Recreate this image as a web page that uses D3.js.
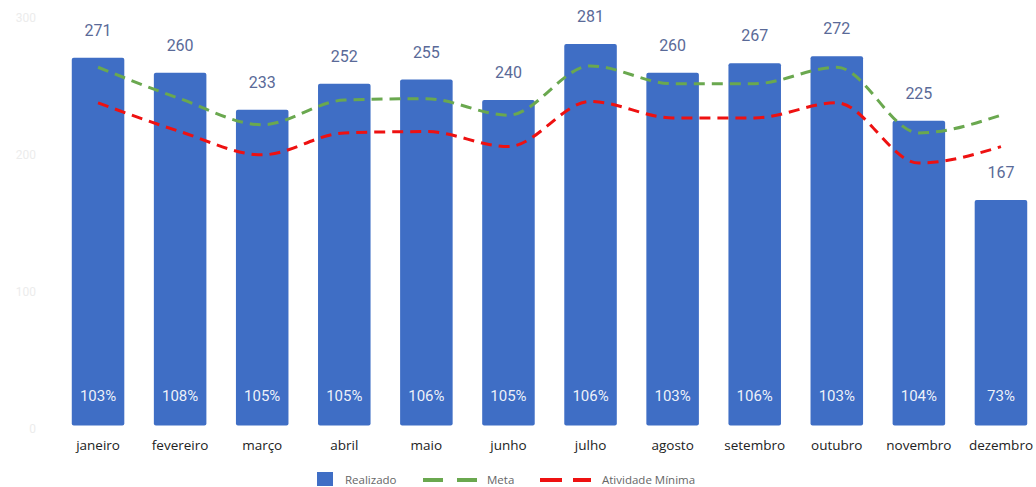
<!DOCTYPE html>
<html><head><meta charset="utf-8">
<script src="https://cdn.jsdelivr.net/npm/d3@7"></script>
<style>body{margin:0;background:#fff}svg{display:block}</style>
</head><body>
<svg id="c" width="1036" height="487"></svg>
<script>
const months = ["janeiro","fevereiro","março","abril","maio","junho","julho","agosto","setembro","outubro","novembro","dezembro"];
const realizado = [271,260,233,252,255,240,281,260,267,272,225,167];
const meta = [264,241,222,240,241,229,265,252,252,264,216,229];
const atividadeMinima = [238,217,200,216,217,206,239,227,227,238,194,206];
const percentLabels = ["103%","108%","105%","105%","106%","105%","106%","103%","106%","103%","104%","73%"];
const yTicks = [0,100,200,300];

const svg = d3.select("#c");
const x = d3.scaleBand().domain(months).range([57,1042]).paddingInner(0.36).paddingOuter(0.18);
const y = d3.scaleLinear().domain([0,300]).range([428.5,18]);

// faint y axis labels
svg.append("g").selectAll("text").data(yTicks).join("text")
  .attr("x",36).attr("y",d=>y(d)).attr("dy","0.35em").attr("text-anchor","end")
  .attr("font-family","Roboto, sans-serif").attr("font-size",12).attr("fill","#ececec")
  .text(d=>d);

// bars
svg.append("g").selectAll("rect").data(realizado).join("rect")
  .attr("x",(d,i)=>x(months[i])).attr("width",x.bandwidth())
  .attr("y",d=>y(d)).attr("height",d=>y(0)-y(d)-3)
  .attr("rx",2).attr("fill","#3f6ec5");

// value labels
svg.append("g").selectAll("text").data(realizado).join("text")
  .attr("x",(d,i)=>x(months[i])+x.bandwidth()/2).attr("y",d=>y(d)-27.5).attr("dy","0.35em")
  .attr("text-anchor","middle").attr("font-family","Roboto, sans-serif").attr("font-size",16)
  .attr("fill","#5a6a98").text(d=>d);

// percent labels
svg.append("g").selectAll("text").data(percentLabels).join("text")
  .attr("x",(d,i)=>x(months[i])+x.bandwidth()/2).attr("y",395.5).attr("dy","0.35em")
  .attr("text-anchor","middle").attr("font-family","Roboto, sans-serif").attr("font-size",15)
  .attr("fill","#ffffff").attr("fill-opacity",0.92).text(d=>d);

// lines
const line = d3.line().x((d,i)=>x(months[i])+x.bandwidth()/2).y(d=>y(d)).curve(d3.curveMonotoneX);
svg.append("path").datum(meta).attr("d",line).attr("fill","none")
  .attr("stroke","#6aa84f").attr("stroke-width",3).attr("stroke-dasharray","11,7");
svg.append("path").datum(atividadeMinima).attr("d",line).attr("fill","none")
  .attr("stroke","#ee1111").attr("stroke-width",3).attr("stroke-dasharray","11,7");

// month labels
svg.append("g").selectAll("text").data(months).join("text")
  .attr("x",d=>x(d)+x.bandwidth()/2).attr("y",445).attr("dy","0.35em")
  .attr("text-anchor","middle").attr("font-family","'Open Sans', sans-serif").attr("font-size",13.5)
  .attr("fill","#222").text(d=>d);

// legend
const lg = svg.append("g").attr("font-family","'Open Sans', sans-serif").attr("font-size",11.5).attr("fill","#666");
lg.append("rect").attr("x",317).attr("y",472).attr("width",16).attr("height",14).attr("fill","#3f6ec5");
lg.append("text").attr("x",345).attr("y",480).attr("dy","0.35em").text("Realizado");
lg.append("line").attr("x1",423).attr("x2",478).attr("y1",480).attr("y2",480)
  .attr("stroke","#6aa84f").attr("stroke-width",4).attr("stroke-dasharray","20,14");
lg.append("text").attr("x",487).attr("y",480).attr("dy","0.35em").text("Meta");
lg.append("line").attr("x1",540).attr("x2",591).attr("y1",480).attr("y2",480)
  .attr("stroke","#ee1111").attr("stroke-width",4).attr("stroke-dasharray","22,11");
lg.append("text").attr("x",602).attr("y",480).attr("dy","0.35em").text("Atividade Mínima");
</script>
</body></html>
